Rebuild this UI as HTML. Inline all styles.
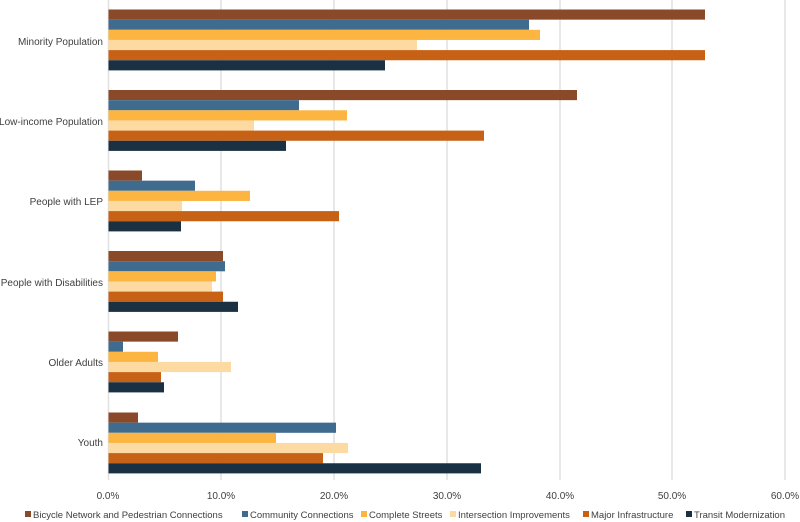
<!DOCTYPE html>
<html><head><meta charset="utf-8"><style>
body{margin:0;background:#fff;}
svg{display:block;font-family:"Liberation Sans",sans-serif;}
</style></head><body>
<svg width="800" height="522" viewBox="0 0 800 522">
<g stroke="#e0e0e0" stroke-width="1.5">
<line x1="221" y1="0" x2="221" y2="480"/><line x1="334" y1="0" x2="334" y2="480"/>
<line x1="447" y1="0" x2="447" y2="480"/><line x1="560" y1="0" x2="560" y2="480"/>
<line x1="672" y1="0" x2="672" y2="480"/><line x1="785" y1="0" x2="785" y2="480"/>
<line x1="108.5" y1="0" x2="108.5" y2="480"/>
</g>
<g>
<rect x="108.5" y="9.5" width="596.5" height="10.15" fill="#8a4a2a"/>
<rect x="108.5" y="19.65" width="420.5" height="10.15" fill="#3f6b8e"/>
<rect x="108.5" y="29.8" width="431.5" height="10.15" fill="#fbb540"/>
<rect x="108.5" y="39.95" width="308.5" height="10.15" fill="#fddaa2"/>
<rect x="108.5" y="50.1" width="596.5" height="10.15" fill="#c66116"/>
<rect x="108.5" y="60.25" width="276.5" height="10.15" fill="#1a3144"/>

<rect x="108.5" y="90" width="468.5" height="10.15" fill="#8a4a2a"/>
<rect x="108.5" y="100.15" width="190.5" height="10.15" fill="#3f6b8e"/>
<rect x="108.5" y="110.3" width="238.5" height="10.15" fill="#fbb540"/>
<rect x="108.5" y="120.45" width="145.5" height="10.15" fill="#fddaa2"/>
<rect x="108.5" y="130.6" width="375.5" height="10.15" fill="#c66116"/>
<rect x="108.5" y="140.75" width="177.5" height="10.15" fill="#1a3144"/>

<rect x="108.5" y="170.5" width="33.5" height="10.15" fill="#8a4a2a"/>
<rect x="108.5" y="180.65" width="86.5" height="10.15" fill="#3f6b8e"/>
<rect x="108.5" y="190.8" width="141.5" height="10.15" fill="#fbb540"/>
<rect x="108.5" y="200.95" width="73.5" height="10.15" fill="#fddaa2"/>
<rect x="108.5" y="211.1" width="230.5" height="10.15" fill="#c66116"/>
<rect x="108.5" y="221.25" width="72.5" height="10.15" fill="#1a3144"/>

<rect x="108.5" y="251" width="114.5" height="10.15" fill="#8a4a2a"/>
<rect x="108.5" y="261.15" width="116.5" height="10.15" fill="#3f6b8e"/>
<rect x="108.5" y="271.3" width="107.5" height="10.15" fill="#fbb540"/>
<rect x="108.5" y="281.45" width="103.5" height="10.15" fill="#fddaa2"/>
<rect x="108.5" y="291.6" width="114.5" height="10.15" fill="#c66116"/>
<rect x="108.5" y="301.75" width="129.5" height="10.15" fill="#1a3144"/>

<rect x="108.5" y="331.5" width="69.5" height="10.15" fill="#8a4a2a"/>
<rect x="108.5" y="341.65" width="14.5" height="10.15" fill="#3f6b8e"/>
<rect x="108.5" y="351.8" width="49.5" height="10.15" fill="#fbb540"/>
<rect x="108.5" y="361.95" width="122.5" height="10.15" fill="#fddaa2"/>
<rect x="108.5" y="372.1" width="52.5" height="10.15" fill="#c66116"/>
<rect x="108.5" y="382.25" width="55.5" height="10.15" fill="#1a3144"/>

<rect x="108.5" y="412.5" width="29.5" height="10.15" fill="#8a4a2a"/>
<rect x="108.5" y="422.65" width="227.5" height="10.15" fill="#3f6b8e"/>
<rect x="108.5" y="432.8" width="167.5" height="10.15" fill="#fbb540"/>
<rect x="108.5" y="442.95" width="239.5" height="10.15" fill="#fddaa2"/>
<rect x="108.5" y="453.1" width="214.5" height="10.15" fill="#c66116"/>
<rect x="108.5" y="463.25" width="372.5" height="10.15" fill="#1a3144"/>
</g>
<g font-size="10" fill="#404040" text-anchor="end">
<text x="103" y="45">Minority Population</text>
<text x="103" y="125">Low-income Population</text>
<text x="103" y="205">People with LEP</text>
<text x="103" y="286">People with Disabilities</text>
<text x="103" y="366">Older Adults</text>
<text x="103" y="446">Youth</text>
</g>
<g font-size="10" fill="#404040" text-anchor="middle">
<text x="108" y="499">0.0%</text><text x="221" y="499">10.0%</text><text x="334" y="499">20.0%</text>
<text x="447" y="499">30.0%</text><text x="560" y="499">40.0%</text><text x="672" y="499">50.0%</text><text x="785" y="499">60.0%</text>
</g>
<g font-size="9.5" fill="#404040">
<rect x="25" y="511" width="6" height="6" fill="#8a4a2a"/><text x="33" y="518">Bicycle Network and Pedestrian Connections</text>
<rect x="242" y="511" width="6" height="6" fill="#3f6b8e"/><text x="250" y="518">Community Connections</text>
<rect x="361" y="511" width="6" height="6" fill="#fbb540"/><text x="369" y="518">Complete Streets</text>
<rect x="450" y="511" width="6" height="6" fill="#fddaa2"/><text x="458" y="518">Intersection Improvements</text>
<rect x="583" y="511" width="6" height="6" fill="#c66116"/><text x="591" y="518">Major Infrastructure</text>
<rect x="686" y="511" width="6" height="6" fill="#1a3144"/><text x="694" y="518">Transit Modernization</text>
</g>
</svg>
</body></html>
